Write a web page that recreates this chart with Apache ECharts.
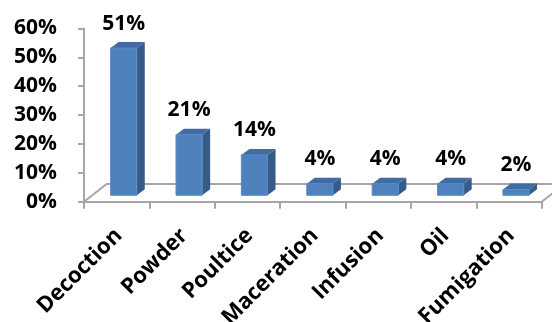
<!DOCTYPE html>
<html>
<head>
<meta charset="utf-8">
<script src="https://cdn.jsdelivr.net/npm/echarts@6/dist/echarts.min.js"></script>
<style>
  html, body { margin: 0; padding: 0; background: #ffffff; }
  #chart { width: 552px; height: 322px; }
</style>
</head>
<body>
<div id="chart"></div>
<script>
// Preparation methods and their share of use
var categories = ['Decoction', 'Powder', 'Poultice', 'Maceration', 'Infusion', 'Oil', 'Fumigation'];
var shares = [0.51, 0.21, 0.14, 0.04, 0.04, 0.04, 0.02];
var valueTicks = [0, 0.1, 0.2, 0.3, 0.4, 0.5, 0.6];

var FONT = '"Open Sans"';
var FONT_SIZE = 21;
var CAT_FONT_SIZE = 22;
var AXIS_GRAY = '#A6A6A6';

// 3D look: bars sit a little behind the front plane, floor recedes up-right
var BAR_SHIFT = [7, -6.4];
var SIDE = [8, -6];
var FLOOR_DEPTH = [22.7, -17.7];
// where each slanted category name ends, relative to its band centre on the front edge
var CAT_LABEL_OFFSET = [2, 30.5];

function pct(v) { return Math.round(v * 100) + '%'; }

var chart = echarts.init(document.getElementById('chart'), null, { renderer: 'canvas' });

chart.setOption({
  animation: false,
  backgroundColor: '#ffffff',
  grid: { left: 84, right: 10.3, top: 28.5, bottom: 120.3, containLabel: false },
  xAxis: {
    type: 'category',
    data: categories,
    boundaryGap: true,
    axisLine: { show: true, lineStyle: { color: AXIS_GRAY, width: 2 } },
    axisTick: { show: true, length: 7, alignWithLabel: false, interval: 0, lineStyle: { color: AXIS_GRAY, width: 2 } },
    axisLabel: { show: false },
    splitLine: { show: false }
  },
  yAxis: {
    type: 'value',
    min: valueTicks[0],
    max: valueTicks[valueTicks.length - 1],
    interval: 0.1,
    axisLine: { show: true, lineStyle: { color: AXIS_GRAY, width: 2 } },
    axisTick: { show: true, length: 6, lineStyle: { color: AXIS_GRAY, width: 2 } },
    axisLabel: {
      margin: 27,
      formatter: function (v) { return pct(v); },
      fontFamily: FONT, fontWeight: 'bold', fontSize: FONT_SIZE, color: '#000000'
    },
    splitLine: { show: false }
  },
  series: [
    {
      // floor outline: left edge, back edge, right edge
      type: 'custom',
      silent: true,
      z: 1,
      data: [[0, 0]],
      renderItem: function (params, api) {
        var cs = params.coordSys;
        var x0 = cs.x, x1 = cs.x + cs.width, yb = cs.y + cs.height;
        var dx = FLOOR_DEPTH[0], dy = FLOOR_DEPTH[1];
        return {
          type: 'polyline',
          shape: { points: [[x0, yb], [x0 + dx, yb + dy], [x1 + dx, yb + dy], [x1, yb]] },
          style: { stroke: AXIS_GRAY, lineWidth: 2, fill: null }
        };
      }
    },
    {
      type: 'custom',
      z: 3,
      data: shares.map(function (v, i) { return [i, v]; }),
      renderItem: function (params, api) {
        var i = api.value(0), v = api.value(1);
        var base = api.coord([i, 0]);
        var top = api.coord([i, v]);
        var band = api.size([1, 0])[0];
        var w = band * 0.4;
        var cx = base[0] + BAR_SHIFT[0];
        var yb = base[1] + BAR_SHIFT[1];
        var yt = top[1] + BAR_SHIFT[1];
        var xl = cx - w / 2, xr = cx + w / 2;
        var sx = SIDE[0], sy = SIDE[1];
        return {
          type: 'group',
          children: [
            {
              type: 'polygon',
              shape: { points: [[xr, yt], [xr + sx, yt + sy], [xr + sx, yb + sy], [xr, yb]] },
              style: { fill: '#365B87' }
            },
            {
              type: 'polygon',
              shape: { points: [[xl, yt], [xr, yt], [xr + sx, yt + sy], [xl + sx, yt + sy]] },
              style: { fill: '#3F6CA3' }
            },
            {
              type: 'rect',
              shape: { x: xl, y: yt, width: w, height: yb - yt },
              style: { fill: '#4F81BD', stroke: '#5A8BC6', lineWidth: 1 }
            },
            {
              // value above the bar
              type: 'text',
              style: {
                text: pct(v),
                x: cx, y: yt + sy - 8,
                align: 'center', verticalAlign: 'bottom',
                fontFamily: FONT, fontWeight: 'bold', fontSize: FONT_SIZE, fill: '#000000'
              }
            },
            {
              // slanted category name below the front edge
              type: 'text',
              x: base[0] + CAT_LABEL_OFFSET[0],
              y: base[1] + CAT_LABEL_OFFSET[1],
              rotation: Math.PI / 4,
              style: {
                text: categories[i],
                x: 0, y: 0,
                align: 'right', verticalAlign: 'middle',
                fontFamily: FONT, fontWeight: 'bold', fontSize: CAT_FONT_SIZE, fill: '#000000'
              }
            }
          ]
        };
      }
    }
  ]
});
</script>
</body>
</html>
